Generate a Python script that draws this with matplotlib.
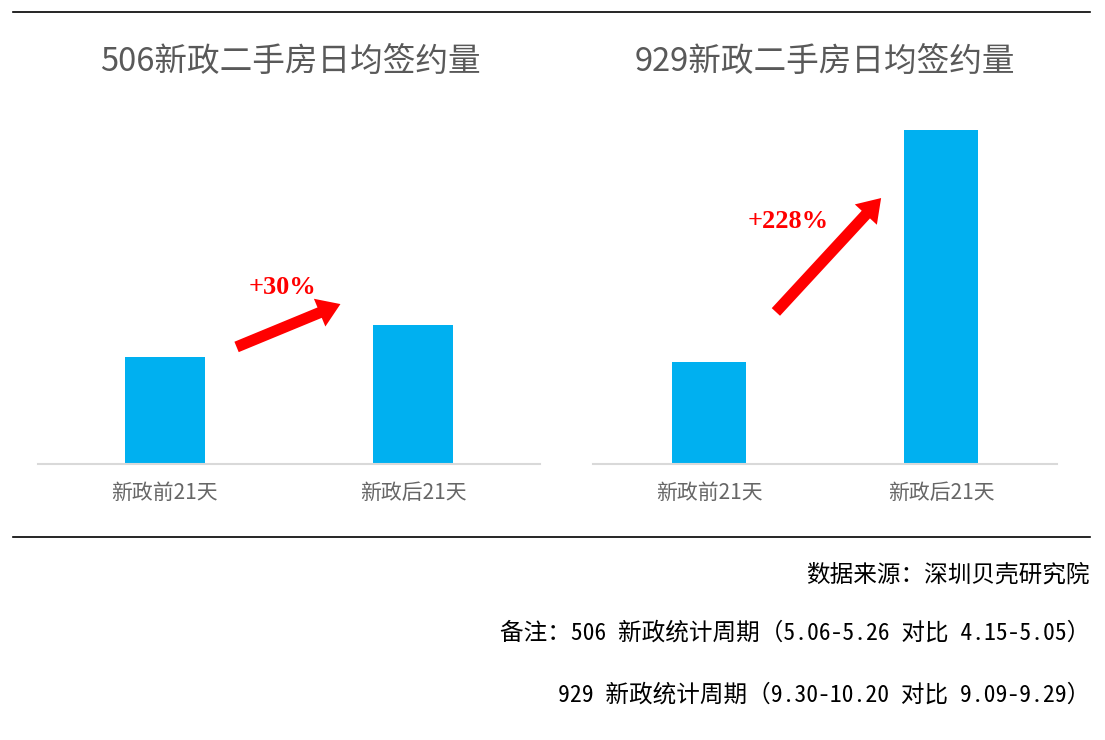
import matplotlib
matplotlib.use('Agg')
import matplotlib.pyplot as plt
from matplotlib.patches import FancyArrowPatch
from matplotlib.lines import Line2D

plt.rcParams['font.family'] = ['Noto Sans CJK SC', 'DejaVu Sans']

# data (relative daily signings, pre-policy = 100)
categories = ['新政前21天', '新政后21天']
titles = ['506新政二手房日均签约量', '929新政二手房日均签约量']
values_506 = [100, 130]
values_929 = [100, 328]
changes = ['+30%', '+228%']
notes = ['数据来源：深圳贝壳研究院',
         '备注：506 新政统计周期（5.06-5.26 对比 4.15-5.05）',
         '929 新政统计周期（9.30-10.20 对比 9.09-9.29）']

W, H = 1105, 740
fig = plt.figure(figsize=(W / 100, H / 100), dpi=100)


# helper: pixel box -> figure fraction
def px_axes(x0, x1, y_top, y_bot):
    return fig.add_axes([x0 / W, 1 - y_bot / H, (x1 - x0) / W, (y_bot - y_top) / H])


bar_color = '#00b0f0'
gray = '#595959'

panels = [
    (38, 540, (-0.51, 1.51), 340, values_506, 290),
    (593, 1057, (-0.5, 1.5), 357, values_929, 825),
]

axes = []
for (x0, x1, xl, ytop, vals, tx), title in zip(panels, titles):
    ax = px_axes(x0, x1, 100, 464)
    ax.bar([0, 1], vals, width=0.32, color=bar_color, zorder=2)
    ax.set_xlim(*xl)
    ax.set_ylim(0, ytop)
    for s in ['top', 'right', 'left']:
        ax.spines[s].set_visible(False)
    ax.spines['bottom'].set_color('#d9d9d9')
    ax.spines['bottom'].set_linewidth(1.5)
    ax.set_yticks([])
    ax.set_xticks([0, 1])
    ax.set_xticklabels(categories, fontsize=15, color='#666666')
    ax.tick_params(axis='x', length=0, pad=13)
    fig.text(tx / W, 1 - 62 / H, title, ha='center', va='center',
             fontsize=23.5, color=gray)
    axes.append(ax)


# red arrows + percent labels (pixel positions)
def red_arrow(p0, p1):
    arr = FancyArrowPatch((p0[0] / W, 1 - p0[1] / H), (p1[0] / W, 1 - p1[1] / H),
                          transform=fig.transFigure,
                          arrowstyle='simple,head_width=2.4,head_length=1.8,tail_width=0.9',
                          mutation_scale=9, color='#ff0000', lw=0)
    fig.patches.append(arr)


red_arrow((234, 348), (343, 303))
red_arrow((774, 314), (883, 196))

for txt, (x, y) in zip(changes, [(283, 288), (788, 221)]):
    fig.text(x / W, 1 - y / H, txt, ha='center', va='center',
             fontsize=19, color='#ff0000', fontweight='bold',
             family=['Liberation Serif', 'DejaVu Serif'])

# frame lines
for y in [12, 537]:
    fig.add_artist(Line2D([13 / W, 1090 / W], [1 - y / H, 1 - y / H],
                          color='black', lw=1.2, transform=fig.transFigure))

# notes
for txt, y in zip(notes, [575, 633, 695]):
    fig.text(1090 / W, 1 - y / H, txt, ha='right', va='center', fontsize=17,
             color='black', family=['Noto Sans Mono CJK SC', 'Noto Sans CJK SC'])

fig.savefig('out.png', dpi=100)
